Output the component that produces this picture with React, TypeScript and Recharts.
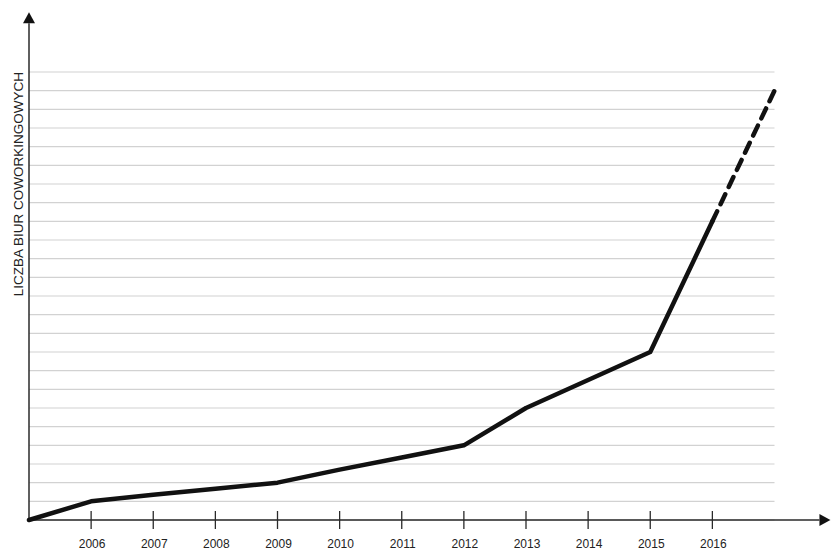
import React from "react";
import {
  LineChart,
  Line,
  XAxis,
  YAxis,
  CartesianGrid,
  ReferenceLine,
} from "recharts";

const years = [2005, 2006, 2007, 2008, 2009, 2010, 2011, 2012, 2013, 2014, 2015, 2016, 2017];
const officesActual = [0, 1.0, 1.35, 1.68, 2.0, 2.7, 3.35, 4.0, 6.0, 7.5, 9.0, 16.0, null];
const officesForecast = [null, null, null, null, null, null, null, null, null, null, null, 16.0, 23.0];
const yearTicks = [2006, 2007, 2008, 2009, 2010, 2011, 2012, 2013, 2014, 2015, 2016];
const gridTicks = [0, 1, 2, 3, 4, 5, 6, 7, 8, 9, 10, 11, 12, 13, 14, 15, 16, 17, 18, 19, 20, 21, 22, 23, 24];

// where the axis arrows end, in data units
const yArrowTop = 27.2;
const xArrowEnd = 2017.9;

const data = years.map((year, i) => ({
  year,
  actual: officesActual[i],
  forecast: officesForecast[i],
}));

const FONT = '"Liberation Sans", Arial, sans-serif';
const AXIS = "#2a2a2a";

function YearTick(props: any) {
  const { x, y, payload } = props;
  return (
    <g>
      <line x1={x} x2={x} y1={y - 9} y2={y + 9} stroke={AXIS} strokeWidth={1.3} />
      <text
        x={x + 1}
        y={y + 28}
        textAnchor="middle"
        fontSize={12}
        fill="#222"
        fontFamily={FONT}
      >
        {payload.value}
      </text>
    </g>
  );
}

function NoTick() {
  return <g />;
}

function ArrowAxis(props: any) {
  const { x1, y1, x2, y2 } = props;
  const a = Math.atan2(y2 - y1, x2 - x1);
  const cos = Math.cos(a);
  const sin = Math.sin(a);
  const len = 11;
  const half = 6;
  const bx = x2 - len * cos;
  const by = y2 - len * sin;
  const px = -sin * half;
  const py = cos * half;
  return (
    <g>
      <line x1={x1} y1={y1} x2={bx} y2={by} stroke={AXIS} strokeWidth={1.5} />
      <polygon
        points={`${x2},${y2} ${bx + px},${by + py} ${bx - px},${by - py}`}
        fill="#111"
      />
    </g>
  );
}

function YTitle(props: any) {
  const { viewBox } = props;
  const x = viewBox.x + viewBox.width - 6;
  const y = viewBox.y;
  return (
    <text
      x={x}
      y={y}
      transform={`rotate(-90, ${x}, ${y})`}
      textAnchor="end"
      fontSize={13.5}
      fill="#222"
      fontFamily={FONT}
    >
      LICZBA BIUR COWORKINGOWYCH
    </text>
  );
}

export default function App() {
  return (
    <div style={{ position: "absolute", left: 0, top: 0, background: "#fff" }}>
      <LineChart
        width={832}
        height={550}
        data={data}
        margin={{ top: 72, right: 57.5, bottom: 0, left: 28 }}
      >
        <CartesianGrid vertical={false} stroke="#d2d2d2" strokeWidth={1.2} />
        <XAxis
          dataKey="year"
          type="number"
          domain={[2005, 2017]}
          ticks={yearTicks}
          axisLine={false}
          tickLine={false}
          tickSize={0}
          tickMargin={0}
          height={30}
          tick={<YearTick />}
          interval={0}
        />
        <YAxis
          type="number"
          domain={[0, 24]}
          ticks={gridTicks}
          interval={0}
          width={1}
          tick={<NoTick />}
          axisLine={false}
          tickLine={false}
          label={<YTitle />}
        />
        <ReferenceLine
          segment={[
            { x: 2005, y: 0 },
            { x: 2005, y: yArrowTop },
          ]}
          ifOverflow="visible"
          shape={<ArrowAxis />}
        />
        <ReferenceLine
          segment={[
            { x: 2005, y: 0 },
            { x: xArrowEnd, y: 0 },
          ]}
          ifOverflow="visible"
          shape={<ArrowAxis />}
        />
        <Line
          type="linear"
          dataKey="actual"
          stroke="#111"
          strokeWidth={4.5}
          strokeLinecap="round"
          strokeLinejoin="round"
          dot={false}
          activeDot={false}
          isAnimationActive={false}
        />
        <Line
          type="linear"
          dataKey="forecast"
          stroke="#111"
          strokeWidth={4.5}
          strokeLinecap="round"
          strokeDasharray="11 8"
          dot={false}
          activeDot={false}
          isAnimationActive={false}
        />
      </LineChart>
    </div>
  );
}
